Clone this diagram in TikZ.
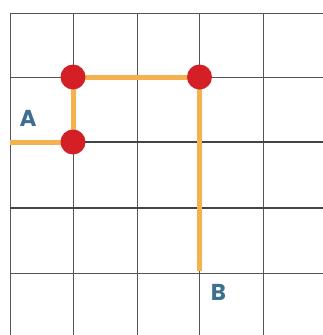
\documentclass[tikz,border=0pt]{standalone}
\usepackage{fontspec}
\newfontfamily\labfont{Poppins}
\definecolor{gridc}{HTML}{555555}
\definecolor{pathc}{HTML}{F5B14E}
\definecolor{dotc}{HTML}{D51F27}
\definecolor{labc}{HTML}{3F6F8F}
\begin{document}
\begin{tikzpicture}[x=1pt,y=-1pt,
  gridline/.style={draw=gridc,line width=1pt},
  heavyline/.style={draw=gridc!80!black,line width=1.5pt},
  route/.style={draw=pathc,line width=5pt},
  dot/.style={circle,fill=dotc,minimum size=25pt,inner sep=0pt},
  lab/.style={text=labc,font=\labfont\bfseries\fontsize{23}{23}\selectfont,inner sep=0pt}]
\useasboundingbox (0,0) rectangle (323,335);
\fill[white] (0,0) rectangle (323,335);
% grid verticals
\foreach \x in {10,73,137,199,263} \draw[gridline] (\x,13) -- (\x,335);
% grid horizontals
\foreach \y in {13,77,273} \draw[gridline] (10,\y) -- (323,\y);
\foreach \y in {142,208} \draw[heavyline] (10,\y) -- (323,\y);
% route
\coordinate (start) at (10,142);
\coordinate (p1) at (73,142);
\coordinate (p2) at (73,77);
\coordinate (p3) at (199.5,77);
\coordinate (finish) at (199.5,271);
\draw[route] (start) -- (p1) -- (p2) -- (p3) -- (finish);
\node[dot] (d1) at (p1) {};
\node[dot] (d2) at (p2) {};
\node[dot] (d3) at (p3) {};
\node[lab] (A) at (28,118) {A};
\node[lab] (B) at (218.5,292.5) {B};
\end{tikzpicture}
\end{document}
